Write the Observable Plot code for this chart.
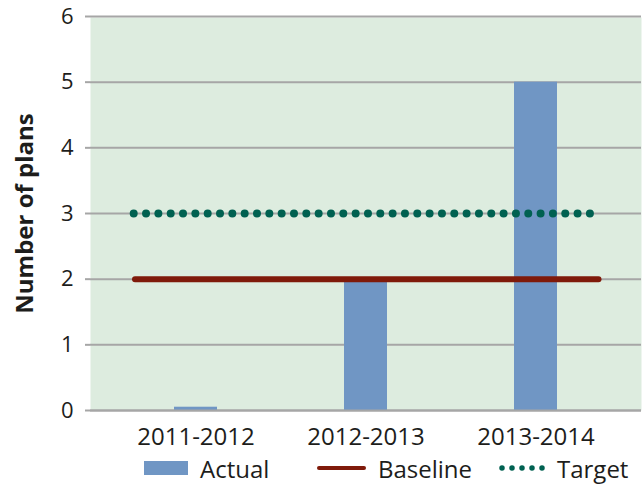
<!DOCTYPE html>
<html>
<head>
<meta charset="utf-8">
<script src="https://cdn.jsdelivr.net/npm/d3@7"></script>
<script src="https://cdn.jsdelivr.net/npm/@observablehq/plot@0.6"></script>
<style>
  html, body { margin: 0; padding: 0; background: #fff; }
  #chart { position: relative; width: 644px; height: 484px; font-family: "Open Sans", sans-serif; color: #1d1d1b; }
  #chart svg { display: block; }
  .legend { position: absolute; left: 0; top: 452px; width: 644px; height: 32px; font-size: 24px; }
  .legend .item { position: absolute; top: 0; height: 32px; display: flex; align-items: center; }
  .legend .item span { margin-left: 12px; }
</style>
</head>
<body>
<div id="chart"></div>
<script>
// Fiscal periods and the number of plans completed in each
const periods = ["2011-2012", "2012-2013", "2013-2014"];
const actualPlans = [0.05, 2, 5];
// Reference levels
const baselinePlans = 2;
const targetPlans = 3;
// Axis ticks
const yTicks = [0, 1, 2, 3, 4, 5, 6];
// Legend entries
const seriesNames = ["Actual", "Baseline", "Target"];

const colors = { actual: "#7096c4", baseline: "#7f1a0a", target: "#006151", grid: "#a6a6a6", panel: "#ddecdf" };

const table = periods.map((p, i) => ({ period: p, plans: actualPlans[i] }));

const plot = Plot.plot({
  width: 644,
  height: 452,
  marginLeft: 90,
  marginRight: 3,
  marginTop: 16,
  marginBottom: 42,
  style: { fontFamily: "Open Sans, sans-serif", color: "#1d1d1b", background: "transparent", overflow: "visible" },
  x: { domain: periods, paddingInner: 0.75, paddingOuter: 0.49 },
  y: { domain: [0, 6] },
  marks: [
    Plot.frame({ fill: colors.panel, stroke: "none", insetTop: 1 }),
    Plot.gridY(yTicks, { stroke: colors.grid, strokeOpacity: 1, strokeWidth: 2 }),
    Plot.barY(table, { x: "period", y: "plans", fill: colors.actual }),
    Plot.ruleY([0], { stroke: colors.grid, strokeWidth: 2 }),
    Plot.axisY({ ticks: yTicks, tickFormat: d3.format("d"), tickSize: 5, tickPadding: 12, fontSize: 22, stroke: colors.grid, strokeWidth: 2, line: true, label: null }),
    Plot.axisX({ tickSize: 0, tickPadding: 17, fontSize: 24, label: null }),
    Plot.text(["Number of plans"], { frameAnchor: "left", textAnchor: "middle", dx: -65, rotate: -90, fontWeight: "bold", fontSize: 24, fill: "#1d1d1b" }),
    Plot.ruleY([baselinePlans], {
      x1: () => periods[0], x2: () => periods[periods.length - 1],
      insetLeft: -39, insetRight: -41.5,
      stroke: colors.baseline, strokeWidth: 6, strokeLinecap: "round"
    }),
    Plot.ruleY([targetPlans], {
      x1: () => periods[0], x2: () => periods[periods.length - 1],
      insetLeft: -40.3, insetRight: -35,
      stroke: colors.target, strokeWidth: 8, strokeLinecap: "round", strokeDasharray: "0 12.33"
    })
  ]
});

const root = document.getElementById("chart");
root.appendChild(plot);

// Legend row below the plot
const legend = document.createElement("div");
legend.className = "legend";
const swatches = [
  `<svg width="44" height="14"><rect x="0" y="0" width="44" height="14" fill="${colors.actual}"/></svg>`,
  `<svg width="49" height="8"><line x1="2" y1="4" x2="47" y2="4" stroke="${colors.baseline}" stroke-width="4" stroke-linecap="round"/></svg>`,
  `<svg width="46" height="8"><line x1="3" y1="4" x2="43.5" y2="4" stroke="${colors.target}" stroke-width="5.5" stroke-linecap="round" stroke-dasharray="0 10"/></svg>`
];
const lefts = [144, 317, 499];
seriesNames.forEach((name, i) => {
  const item = document.createElement("div");
  item.className = "item";
  item.style.left = lefts[i] + "px";
  item.innerHTML = swatches[i] + `<span>${name}</span>`;
  legend.appendChild(item);
});
root.appendChild(legend);
</script>
</body>
</html>
